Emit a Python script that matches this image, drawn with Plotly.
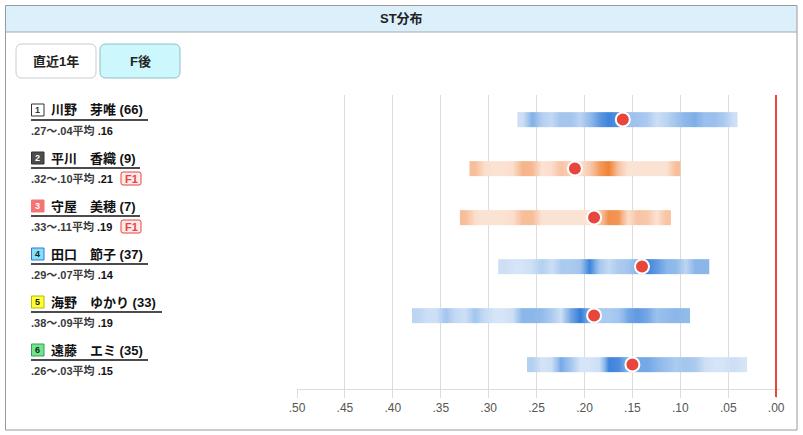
import plotly.graph_objects as go
import numpy as np

# racer rows (top to bottom)
lanes = [1, 2, 3, 4, 5, 6]
names = ["川野　芽唯", "平川　香織", "守屋　美穂", "田口　節子", "海野　ゆかり", "遠藤　エミ"]
counts = [66, 9, 7, 37, 33, 35]
st_slow = [0.27, 0.32, 0.33, 0.29, 0.38, 0.26]
st_fast = [0.04, 0.10, 0.11, 0.07, 0.09, 0.03]
st_avg = [0.16, 0.21, 0.19, 0.14, 0.19, 0.15]
f_counts = [0, 1, 1, 0, 0, 0]

# density of ST per 0.01 bin, from slowest bin to fastest bin
density_1 = [0.1, 0.55, 0.25, 0.15, 0.35, 0.35, 0.2, 0.45, 0.7, 0.85, 0.75, 0.4,
             0.35, 0.3, 0.1, 0.2, 0.35, 0.5, 0.55, 0.4, 0.4, 0.3, 0.1]
density_2 = [0.4, 0.1, 0.05, 0.05, 0.1, 0.5, 0.45, 0.05, 0.1, 0.35, 0.2, 0.05,
             0.3, 0.7, 0.9, 0.35, 0.05, 0.05, 0.05, 0.05, 0.05, 0.4]
density_3 = [0.4, 0.1, 0.05, 0.05, 0.05, 0.1, 0.4, 0.4, 0.05, 0.05, 0.05, 0.05,
             0.05, 0.05, 0.3, 0.8, 0.75, 0.1, 0.35, 0.3, 0.05, 0.35]
density_4 = [0.1, 0.05, 0.05, 0.1, 0.25, 0.1, 0.3, 0.3, 0.35, 0.85, 0.35, 0.15,
             0.3, 0.35, 0.5, 0.85, 0.7, 0.5, 0.45, 0.2, 0.5, 0.5]
density_5 = [0.2, 0.1, 0.1, 0.35, 0.15, 0.1, 0.35, 0.15, 0.05, 0.05, 0.1, 0.5,
             0.5, 0.45, 0.3, 0.1, 0.6, 0.9, 0.5, 0.3, 0.3, 0.35, 0.6, 0.7,
             0.6, 0.4, 0.45, 0.5, 0.45]
density_6 = [0.25, 0.05, 0.1, 0.6, 0.35, 0.05, 0.05, 0.1, 0.85, 0.8, 0.5, 0.6,
             0.6, 0.5, 0.4, 0.3, 0.35, 0.3, 0.1, 0.05, 0.05, 0.1, 0.05]
densities = [density_1, density_2, density_3, density_4, density_5, density_6]

tick_vals = [0.50, 0.45, 0.40, 0.35, 0.30, 0.25, 0.20, 0.15, 0.10, 0.05, 0.00]
tick_text = [".50", ".45", ".40", ".35", ".30", ".25", ".20", ".15", ".10", ".05", ".00"]

W, H = 803, 435
L, R, T, B = 297, 780, 95, 389


def px(x):
    return (x - L) / (R - L)


def py(y):
    return (B - y) / (B - T)


def rrect(x0, y0, x1, y1, r):
    # rounded rect path in paper coords from pixel coords
    pts = [
        f"M{px(x0 + r)},{py(y0)}", f"L{px(x1 - r)},{py(y0)}",
        f"Q{px(x1)},{py(y0)} {px(x1)},{py(y0 + r)}", f"L{px(x1)},{py(y1 - r)}",
        f"Q{px(x1)},{py(y1)} {px(x1 - r)},{py(y1)}", f"L{px(x0 + r)},{py(y1)}",
        f"Q{px(x0)},{py(y1)} {px(x0)},{py(y1 - r)}", f"L{px(x0)},{py(y0 + r)}",
        f"Q{px(x0)},{py(y0)} {px(x0 + r)},{py(y0)}", "Z",
    ]
    return " ".join(pts)


BLUE = [[0, "#dde9f8"], [0.5, "#8ab6ea"], [1, "#1f6fd6"]]
ORANGE = [[0, "#fce8dc"], [0.5, "#f6b48a"], [1, "#f0761f"]]

fig = go.Figure()

for i in range(6):
    edges = np.round(np.linspace(st_slow[i], st_fast[i], len(densities[i]) + 1), 2)
    fig.add_trace(go.Heatmap(
        x=edges, y=[i - 0.15, i, i + 0.15],
        z=[densities[i], densities[i]],
        zmin=0, zmax=1, zsmooth="best",
        colorscale=ORANGE if f_counts[i] > 0 else BLUE,
        showscale=False, hoverinfo="skip",
    ))

fig.add_trace(go.Scatter(
    x=st_avg, y=list(range(6)), mode="markers",
    marker=dict(size=14, color="#e8453c", line=dict(color="white", width=2)),
    hoverinfo="skip", showlegend=False,
))

FONT = "Liberation Sans, Noto Sans CJK JP, sans-serif"
shapes = []
annotations = []


def label(x, y, text, size, color, xanchor="center"):
    annotations.append(dict(xref="paper", yref="paper", x=px(x), y=py(y),
                            xanchor=xanchor, yanchor="middle", text=text,
                            showarrow=False,
                            font=dict(family=FONT, size=size, color=color)))


# outer panel and header
shapes.append(dict(type="rect", xref="paper", yref="paper", layer="below",
                   x0=px(5.5), x1=px(797), y0=py(5.5), y1=py(32),
                   fillcolor="#dcf0fb", line=dict(width=0)))
shapes.append(dict(type="line", xref="paper", yref="paper",
                   x0=px(5.5), x1=px(797), y0=py(32), y1=py(32),
                   line=dict(color="#a8a8a8", width=1)))
shapes.append(dict(type="rect", xref="paper", yref="paper",
                   x0=px(5.5), x1=px(797), y0=py(5.5), y1=py(430),
                   line=dict(color="#9a9a9a", width=1)))
label(401, 18.5, "<b>ST分布</b>", 13, "#222")

# buttons
shapes.append(dict(type="path", xref="paper", yref="paper",
                   path=rrect(16, 44, 96, 78, 6), fillcolor="white",
                   line=dict(color="#cccccc", width=1)))
shapes.append(dict(type="path", xref="paper", yref="paper",
                   path=rrect(100, 44, 180, 78, 6), fillcolor="#ccf7fc",
                   line=dict(color="#8fbfc6", width=1)))
label(56, 61, "<b>直近1年</b>", 13, "#222")
label(140, 61, "<b>F後</b>", 13, "#222")

# red line at .00
shapes.append(dict(type="line", xref="paper", yref="paper", x0=px(776), x1=px(776),
                   y0=py(397), y1=1, line=dict(color="#e8453c", width=2)))

lane_fill = ["#ffffff", "#4d4d4d", "#f47474", "#7fe3f5", "#ffff33", "#6ee68a"]
lane_line = ["#333333", "#333333", "#f47474", "#3a6ee8", "#b8b800", "#3a9a5a"]
lane_text = ["#333333", "#ffffff", "#ffffff", "#222222", "#222222", "#222222"]
under_end = [148, 140, 140, 148, 162, 148]

for i in range(6):
    ny = 110 + 48 * i
    shapes.append(dict(type="rect", xref="paper", yref="paper",
                       x0=px(31.5), x1=px(44), y0=py(ny - 6), y1=py(ny + 6),
                       fillcolor=lane_fill[i], line=dict(color=lane_line[i], width=1)))
    label(37.8, ny, f"<b>{lanes[i]}</b>", 9, lane_text[i])
    label(49, ny, f"<b>{names[i]} ({counts[i]})</b>", 13, "#111", "left")
    shapes.append(dict(type="line", xref="paper", yref="paper",
                       x0=px(31), x1=px(under_end[i]), y0=py(ny + 10), y1=py(ny + 10),
                       line=dict(color="#111", width=1.5)))
    sub = (f"<b>.{round(st_slow[i] * 100):02d}〜.{round(st_fast[i] * 100):02d}平均</b>"
           f" <b><span style='color:#111'>.{round(st_avg[i] * 100):02d}</span></b>")
    label(29, ny + 20, sub, 11, "#3a3a3a", "left")
    if f_counts[i] > 0:
        shapes.append(dict(type="path", xref="paper", yref="paper",
                           path=rrect(121, ny + 14, 141, ny + 27, 2),
                           fillcolor="#fdeaea", line=dict(color="#e8453c", width=1)))
        label(131, ny + 20.5, f"<b>F{f_counts[i]}</b>", 11, "#e8453c")

fig.update_layout(
    width=W, height=H,
    margin=dict(l=L, r=W - R, t=T, b=H - B, pad=0),
    paper_bgcolor="white", plot_bgcolor="white",
    showlegend=False,
    xaxis=dict(
        range=[0.5, -0.004], tickvals=tick_vals, ticktext=tick_text,
        showgrid=True, gridcolor="#dcdcdc", gridwidth=1, zeroline=False,
        showline=True, linecolor="#dcdcdc", linewidth=1,
        ticks="outside", ticklen=8, tickcolor="#dcdcdc",
        tickfont=dict(family=FONT, size=12, color="#555"),
        fixedrange=True,
    ),
    yaxis=dict(range=[5.5, -0.5], visible=False, fixedrange=True),
    shapes=shapes,
    annotations=annotations,
)

fig.write_html("out.html", config={"displayModeBar": False},
               post_script="document.body.style.margin='0';")
